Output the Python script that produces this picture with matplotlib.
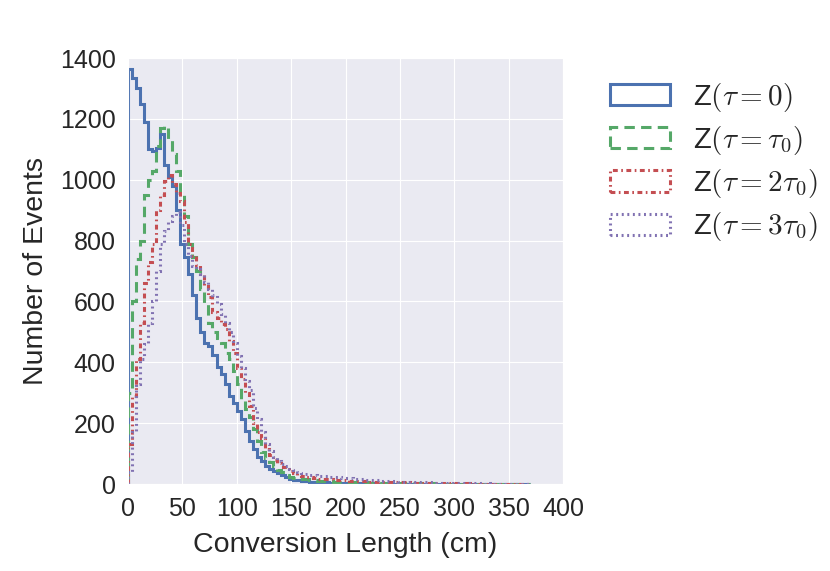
import numpy as np
import matplotlib
matplotlib.use("Agg")
import matplotlib.pyplot as plt
import seaborn as sns

sns.set_style("darkgrid")
plt.rcParams['font.family'] = ['Liberation Sans', 'DejaVu Sans']
plt.rcParams['mathtext.fontset'] = 'cm'
plt.rcParams['lines.scale_dashes'] = False

# ---- data (counts per bin, bins of equal width from 0 to 370 cm) ----
x_max = 370.0
labels = [r'Z$(\tau=0)$', r'Z$(\tau=\tau_0)$', r'Z$(\tau=2\tau_0)$', r'Z$(\tau=3\tau_0)$']

counts_tau0 = [1365, 1335, 1300, 1250, 1190, 1100, 1095, 1105, 1150, 1050,
               1010, 980, 900, 790, 745, 690, 620, 545, 500, 462,
               455, 425, 385, 360, 330, 290, 265, 240, 215, 175,
               140, 115, 90, 75, 60, 50, 42, 35, 28, 22,
               18, 14, 12, 10, 9, 8, 7, 6, 5, 5,
               4, 4, 3, 3, 3, 2, 3, 2, 2, 2,
               1, 2, 1, 1, 1, 1, 1, 0, 1, 1,
               0, 1, 0, 1, 0, 0, 1, 0, 0, 0,
               1, 0, 0, 0, 0, 1, 0, 0, 0, 0,
               0, 0, 0, 0, 0, 0, 0, 0, 0, 1]

counts_tau1 = [300, 600, 740, 800, 950, 1000, 1030, 1110, 1170, 1175,
               1135, 1085, 1030, 960, 880, 790, 745, 700, 640, 590,
               530, 500, 480, 465, 430, 410, 370, 330, 280, 245,
               220, 180, 140, 105, 85, 72, 58, 46, 38, 30,
               24, 20, 18, 16, 15, 13, 12, 11, 10, 10,
               9, 8, 8, 7, 7, 6, 6, 5, 5, 5,
               4, 4, 4, 3, 4, 3, 3, 3, 2, 3,
               2, 2, 2, 2, 1, 2, 1, 1, 1, 1,
               1, 1, 1, 0, 1, 1, 0, 1, 0, 0,
               1, 0, 0, 0, 1, 0, 0, 0, 0, 0]

counts_tau2 = [130, 290, 410, 530, 660, 730, 790, 900, 950, 995,
               1015, 985, 955, 930, 860, 790, 750, 720, 690, 650,
               615, 565, 545, 525, 510, 470, 430, 380, 345, 300,
               255, 200, 170, 150, 115, 95, 80, 68, 55, 48,
               42, 36, 30, 27, 24, 22, 20, 18, 17, 16,
               15, 14, 13, 12, 12, 11, 10, 10, 9, 9,
               8, 8, 7, 7, 6, 6, 6, 5, 5, 5,
               4, 4, 4, 3, 3, 3, 3, 2, 2, 2,
               2, 2, 2, 1, 2, 1, 1, 1, 1, 1,
               1, 0, 1, 1, 0, 1, 0, 0, 1, 0]

counts_tau3 = [40, 170, 330, 410, 460, 530, 600, 700, 790, 830,
               865, 880, 895, 850, 790, 750, 715, 705, 690, 665,
               640, 620, 590, 560, 530, 500, 465, 420, 380, 340,
               310, 250, 215, 170, 130, 110, 90, 75, 65, 58,
               50, 45, 40, 36, 32, 30, 28, 26, 25, 27,
               24, 22, 24, 20, 19, 21, 17, 16, 15, 14,
               13, 12, 12, 11, 10, 10, 9, 8, 8, 7,
               7, 6, 6, 5, 5, 5, 4, 4, 4, 3,
               3, 3, 3, 2, 2, 2, 2, 2, 1, 2,
               1, 1, 1, 1, 1, 1, 0, 1, 0, 1]

series = [counts_tau0, counts_tau1, counts_tau2, counts_tau3]
colors = ['#4C72B0', '#55A868', '#C44E52', '#8172B2']
styles = ['-', (0, (7.5, 4.5)), (0, (3.5, 2.5, 1.2, 2.5)), (0, (1.4, 2.6))]

x_ticks = [0, 50, 100, 150, 200, 250, 300, 350, 400]
y_ticks = [0, 200, 400, 600, 800, 1000, 1200, 1400]

# ---- figure ----
fig = plt.figure(figsize=(8.3, 5.71), dpi=100)
ax = fig.add_axes([128/830, 1 - 484/571, 435/830, 426/571])

for counts, col, ls, lab in zip(series, colors, styles, labels):
    n = len(counts)
    edges = np.linspace(0, x_max, n + 1)
    centers = 0.5 * (edges[:-1] + edges[1:])
    ax.hist(centers, bins=edges, weights=counts, histtype='step',
            color=col, linestyle=ls, linewidth=2.2, label=lab)

ax.set_xlim(0, 400)
ax.set_ylim(0, 1400)
ax.set_xticks(x_ticks)
ax.set_yticks(y_ticks)
ax.tick_params(labelsize=18, pad=5.5)
ax.set_xlabel('Conversion Length (cm)', fontsize=20.5, labelpad=8)
ax.set_ylabel('Number of Events', fontsize=20.5, labelpad=8)

leg = ax.legend(loc='upper left', bbox_to_anchor=(1.082, 0.974), frameon=False,
                fontsize=21, handlelength=2.05, handleheight=0.75,
                handletextpad=0.8, labelspacing=0.35, borderaxespad=0)

fig.savefig('out.png', dpi=100)
